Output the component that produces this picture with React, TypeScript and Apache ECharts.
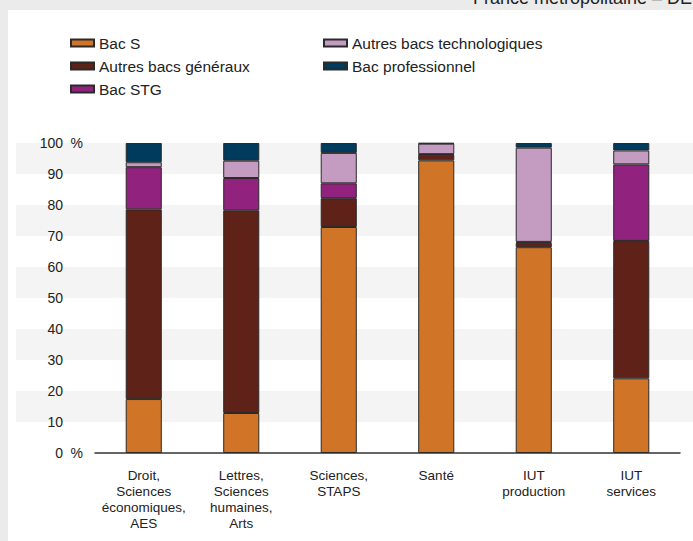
import React, { useEffect, useRef } from "react";
import * as echarts from "echarts";

const categories = [
  "Droit,\nSciences\néconomiques,\nAES",
  "Lettres,\nSciences\nhumaines,\nArts",
  "Sciences,\nSTAPS",
  "Santé",
  "IUT\nproduction",
  "IUT\nservices",
];
const bacS = [17.4, 12.9, 72.9, 94.4, 66.4, 24.1];
const autresGeneraux = [61.2, 65.4, 9.3, 1.8, 1.4, 44.3];
const bacSTG = [13.6, 10.4, 4.8, 0.2, 0.3, 24.7];
const autresTechno = [1.6, 5.6, 9.8, 3.4, 30.4, 4.5];
const bacPro = [6.2, 5.7, 3.2, 0.2, 1.5, 2.4];
const yTicks = [0, 10, 20, 30, 40, 50, 60, 70, 80, 90, 100];

const FONT = "'Liberation Sans', Arial, sans-serif";

export default function App() {
  const ref = useRef<HTMLDivElement>(null);
  useEffect(() => {
    if (!ref.current) return;
    const chart = echarts.init(ref.current, undefined, { renderer: "svg" });
    const mk = (name: string, data: number[], color: string) => ({
      name,
      type: "bar",
      stack: "total",
      xAxisIndex: 1,
      yAxisIndex: 1,
      barWidth: "37%",
      data,
      itemStyle: { color, borderColor: "#2a2a2a", borderWidth: 1 },
    });
    const legendText = { fontFamily: FONT, fontSize: 15.5, color: "#222" };
    chart.setOption({
      animation: false,
      backgroundColor: "#ffffff",
      textStyle: { fontFamily: FONT },
      graphic: [
        { type: "rect", shape: { x: 0, y: 0, width: 693, height: 10 }, style: { fill: "#ebebeb" }, silent: true },
        { type: "rect", shape: { x: 0, y: 0, width: 8, height: 541 }, style: { fill: "#ebebeb" }, silent: true },
        {
          type: "text",
          x: 473,
          y: -11,
          style: { text: "France métropolitaine – DEPP", fill: "#222", font: `18px ${FONT}` },
          silent: true,
        },
      ],
      legend: [
        {
          data: ["Bac S", "Autres bacs généraux", "Bac STG"],
          orient: "vertical",
          left: 65,
          top: 30,
          itemWidth: 23,
          itemHeight: 7,
          itemGap: 7,
          icon: "rect",
          textStyle: legendText,
          selectedMode: false,
        },
        {
          data: ["Autres bacs technologiques", "Bac professionnel"],
          orient: "vertical",
          left: 318,
          top: 30,
          itemWidth: 23,
          itemHeight: 7,
          itemGap: 7,
          icon: "rect",
          textStyle: legendText,
          selectedMode: false,
        },
      ],
      grid: [
        { left: 16, right: 0, top: 143, bottom: 88 },
        { left: 95, right: 13, top: 143, bottom: 88 },
      ],
      xAxis: [
        { type: "value", gridIndex: 0, show: false, min: 0, max: 1 },
        {
          type: "category",
          gridIndex: 1,
          data: categories,
          axisLine: { lineStyle: { color: "#333", width: 1.5 } },
          axisTick: { length: 8, lineStyle: { color: "#333" } },
          axisLabel: {
            color: "#222",
            fontFamily: FONT,
            fontSize: 13.5,
            lineHeight: 16,
            margin: 14,
            interval: 0,
          },
        },
      ],
      yAxis: [
        {
          type: "value",
          gridIndex: 0,
          min: 0,
          max: 100,
          interval: 10,
          axisLabel: { show: false },
          axisLine: { show: false },
          axisTick: { show: false },
          splitLine: { show: false },
          splitArea: { show: true, areaStyle: { color: ["#ffffff", "#f4f4f4"] } },
        },
        {
          type: "value",
          gridIndex: 1,
          min: 0,
          max: 100,
          interval: 10,
          axisLine: { show: false },
          axisTick: { show: false },
          splitLine: { show: false },
          axisLabel: {
            margin: 12,
            align: "right",
            color: "#222",
            fontFamily: FONT,
            fontSize: 14,
            formatter: (v: number) =>
              yTicks.includes(v)
                ? v === 0 || v === 100
                  ? `{n|${v}}{u| %}`
                  : `{n|${v}}{u|}`
                : "",
            rich: {
              n: { fontFamily: FONT, fontSize: 14, color: "#222" },
              u: { fontFamily: FONT, fontSize: 14, color: "#222", width: 20 },
            },
          },
        },
      ],
      series: [
        mk("Bac S", bacS, "#d07428"),
        mk("Autres bacs généraux", autresGeneraux, "#5e2219"),
        mk("Bac STG", bacSTG, "#91237e"),
        mk("Autres bacs technologiques", autresTechno, "#c49bc1"),
        mk("Bac professionnel", bacPro, "#003a5c"),
      ],
    });
    return () => chart.dispose();
  }, []);
  return (
    <div
      ref={ref}
      style={{ position: "absolute", left: 0, top: 0, width: 693, height: 541 }}
    />
  );
}
